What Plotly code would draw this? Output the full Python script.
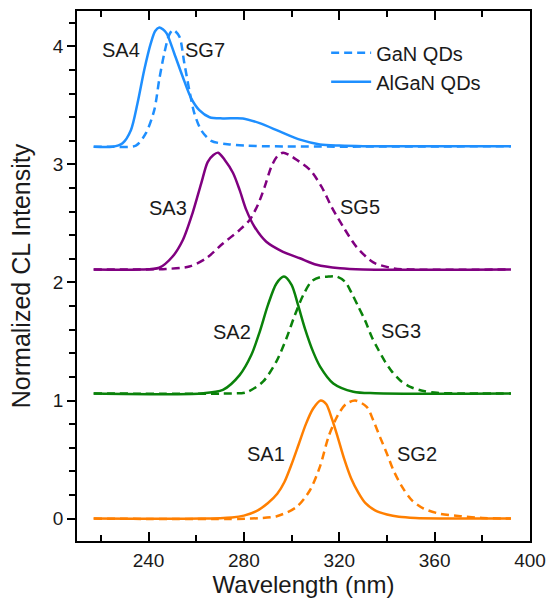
import plotly.graph_objects as go

# ---- data (wavelength nm, normalized intensity incl. vertical offset) ----
sa1_x = [217, 262, 275, 280, 285, 290, 294, 297, 300, 303, 306, 309, 312.2, 314.5, 317, 319.5, 322, 325, 328, 331, 335, 340, 345, 352, 362, 392]
sa1_y = [0, 0, 0.01, 0.025, 0.06, 0.13, 0.21, 0.31, 0.46, 0.63, 0.80, 0.93, 1.0, 0.97, 0.84, 0.68, 0.51, 0.34, 0.22, 0.13, 0.07, 0.035, 0.015, 0.005, 0.001, 0]

sg2_x = [217, 283, 293.8, 302.2, 307.7, 311.9, 315.6, 319.5, 322.8, 326.7, 331.5, 334.3, 337.1, 340.0, 342.7, 346.3, 350.5, 355.4, 362.4, 370.8, 380, 392]
sg2_y = [0, 0, 0.02, 0.10, 0.24, 0.44, 0.70, 0.88, 0.97, 1.0, 0.947, 0.83, 0.69, 0.55, 0.41, 0.27, 0.155, 0.085, 0.04, 0.02, 0.005, 0]

sa2_x = [217, 262, 271.2, 278.2, 283.1, 286.6, 290.1, 293.6, 296.8, 300.0, 302.7, 305.6, 309.1, 311.9, 317.5, 325.9, 335, 392]
sa2_y = [1.06, 1.06, 1.09, 1.215, 1.385, 1.58, 1.81, 1.99, 2.05, 1.98, 1.81, 1.61, 1.41, 1.29, 1.145, 1.075, 1.062, 1.06]

sg3_x = [217, 274, 281, 288, 293.6, 297.9, 301.3, 304.8, 308.4, 311.9, 315.5, 318.9, 322.4, 325.2, 328.0, 330.8, 333.6, 336.4, 339.2, 342.1, 345.6, 349.8, 355.4, 361.0, 370, 392]
sg3_y = [1.06, 1.06, 1.07, 1.16, 1.33, 1.53, 1.72, 1.89, 2.01, 2.045, 2.05, 2.05, 2.007, 1.91, 1.795, 1.68, 1.54, 1.43, 1.33, 1.245, 1.17, 1.115, 1.08, 1.065, 1.06, 1.06]

sa3_x = [217, 236, 244.5, 250.1, 254.4, 258.5, 262.1, 264.8, 267.2, 269.2, 271.9, 275.4, 278.2, 281.0, 284.5, 289.4, 296.4, 303.5, 310.5, 320.3, 330, 392]
sa3_y = [2.11, 2.11, 2.125, 2.22, 2.36, 2.59, 2.84, 3.02, 3.08, 3.10, 3.04, 2.93, 2.785, 2.615, 2.47, 2.345, 2.26, 2.205, 2.15, 2.12, 2.11, 2.11]

sg5_x = [217, 247.3, 257.1, 264.2, 271.2, 278.2, 282.4, 285.9, 288.7, 291.5, 294, 296.4, 299, 302.1, 307.7, 312.6, 316.8, 321.7, 327.3, 334.3, 342.8, 350, 392]
sg5_y = [2.11, 2.115, 2.135, 2.205, 2.33, 2.445, 2.53, 2.66, 2.81, 2.98, 3.07, 3.10, 3.08, 3.04, 2.955, 2.81, 2.64, 2.47, 2.30, 2.17, 2.12, 2.11, 2.11]

sa4_x = [217, 224.8, 229.1, 232.6, 235.4, 238.2, 241.0, 242.8, 244.5, 246.0, 247.6, 250.8, 254.3, 257.9, 261.3, 265.6, 271.2, 279.6, 286.6, 295.0, 303.5, 311.9, 320, 330, 392]
sa4_y = [3.15, 3.15, 3.18, 3.29, 3.52, 3.80, 4.03, 4.13, 4.16, 4.145, 4.11, 3.94, 3.745, 3.56, 3.46, 3.40, 3.39, 3.39, 3.35, 3.28, 3.21, 3.17, 3.16, 3.155, 3.155]

sg7_x = [217, 224.8, 234.7, 238.9, 242.4, 244.5, 246.6, 248.7, 250.3, 252.9, 255.0, 257.1, 259.2, 262.1, 266.3, 274.0, 288, 392]
sg7_y = [3.15, 3.15, 3.16, 3.265, 3.46, 3.72, 3.94, 4.10, 4.14, 4.085, 3.86, 3.63, 3.435, 3.29, 3.20, 3.17, 3.155, 3.155]

label_text = ["SA4", "SG7", "SA3", "SG5", "SA2", "SG3", "SA1", "SG2"]
label_x = [228.4, 263.5, 248.0, 328.7, 275.1, 345.7, 289.1, 352.8]
label_y = [3.97, 3.97, 2.63, 2.64, 1.58, 1.59, 0.55, 0.55]

x_tickvals = [240, 280, 320, 360, 400]
y_tickvals = [0, 1, 2, 3, 4]

BLUE = "#1E8FFF"
PURPLE = "#800080"
GREEN = "#0A820A"
ORANGE = "#FF7F00"
DASH = "8px,5px"
LW = 2.5
FONT = "Liberation Sans, Arial, sans-serif"
TXT = "#1a1a1a"

fig = go.Figure()

def add(x, y, color, dashed, name=None, show=False):
    fig.add_trace(go.Scatter(
        x=x, y=y, mode="lines", name=name, showlegend=show,
        line=dict(color=color, width=LW, dash=DASH if dashed else "solid",
                  shape="spline", smoothing=0.8),
        hoverinfo="skip"))

add(sg7_x, sg7_y, BLUE, True, "GaN QDs", True)
add(sa4_x, sa4_y, BLUE, False, "AlGaN QDs", True)
add(sg5_x, sg5_y, PURPLE, True)
add(sa3_x, sa3_y, PURPLE, False)
add(sg3_x, sg3_y, GREEN, True)
add(sa2_x, sa2_y, GREEN, False)
add(sg2_x, sg2_y, ORANGE, True)
add(sa1_x, sa1_y, ORANGE, False)

for t, x, y in zip(label_text, label_x, label_y):
    fig.add_annotation(x=x, y=y, xref="x", yref="y", text=t, showarrow=False,
                       font=dict(family=FONT, size=20, color=TXT))

fig.update_layout(
    width=550, height=606,
    margin=dict(l=77, r=20, t=11, b=65, autoexpand=False),
    paper_bgcolor="white", plot_bgcolor="white",
    font=dict(family=FONT, size=20, color=TXT),
    showlegend=True,
    legend=dict(x=0.55, y=0.958, xanchor="left", yanchor="top",
                bgcolor="rgba(0,0,0,0)", font=dict(family=FONT, size=20, color=TXT),
                tracegroupgap=0, itemwidth=40),
    xaxis=dict(range=[210, 400], tickvals=x_tickvals, ticks="inside", ticklen=9, tickwidth=1.5,
               tickcolor="black", showline=True, linecolor="black", linewidth=1.5,
               mirror="ticks", showgrid=False, zeroline=False, automargin=False,
               minor=dict(dtick=20, tick0=0, ticks="inside", ticklen=6, tickwidth=1.5,
                          tickcolor="black", showgrid=False),
               tickfont=dict(family=FONT, size=19, color=TXT),
               ticklabelstandoff=1,
               title=dict(text="Wavelength (nm)", font=dict(family=FONT, size=24, color=TXT), standoff=6)),
    yaxis=dict(range=[-0.19, 4.3], tickvals=y_tickvals, ticks="outside", ticklen=8, tickwidth=1.5,
               tickcolor="black", showline=True, linecolor="black", linewidth=1.5,
               mirror=True, showgrid=False, zeroline=False, automargin=False,
               minor=dict(dtick=0.2, tick0=0, ticks="outside", ticklen=6, tickwidth=1.5,
                          tickcolor="black", showgrid=False),
               tickfont=dict(family=FONT, size=19, color=TXT),
               title=dict(text="Normalized CL Intensity", font=dict(family=FONT, size=25, color=TXT), standoff=15)),
    yaxis2=dict(matches="y", overlaying="y", side="right", tickvals=y_tickvals, ticks="inside",
                ticklen=8, tickwidth=1.5, tickcolor="black", showticklabels=False,
                showline=False, showgrid=False, zeroline=False, automargin=False,
                minor=dict(dtick=0.2, tick0=0, ticks="inside", ticklen=6, tickwidth=1.5,
                           tickcolor="black", showgrid=False)),
)

fig.write_html("out.html", config={"displayModeBar": False},
               post_script="document.body.style.margin='0';")
